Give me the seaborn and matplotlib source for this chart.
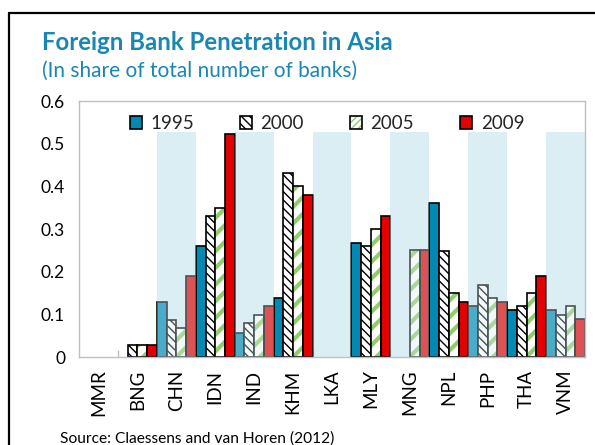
import numpy as np
import pandas as pd
import matplotlib
matplotlib.use("Agg")
import matplotlib.pyplot as plt
from matplotlib.lines import Line2D
from matplotlib.patches import Rectangle
from matplotlib.ticker import FuncFormatter, FixedLocator
import seaborn as sns

countries = ["MMR", "BNG", "CHN", "IDN", "IND", "KHM", "LKA",
             "MLY", "MNG", "NPL", "PHP", "THA", "VNM"]
years = ["1995", "2000", "2005", "2009"]
v1995 = [None, None, 0.128, 0.261, 0.057, 0.139, None, 0.267, None, 0.36, 0.12, 0.109, 0.109]
v2000 = [None, 0.027, 0.087, 0.33, 0.08, 0.431, None, 0.261, None, 0.248, 0.169, 0.12, 0.098]
v2005 = [None, 0.027, 0.069, 0.349, 0.098, 0.40, None, 0.301, 0.25, 0.15, 0.139, 0.15, 0.12]
v2009 = [None, 0.027, 0.19, 0.522, 0.119, 0.379, None, 0.33, 0.25, 0.128, 0.128, 0.19, 0.088]
shaded = ["CHN", "IND", "LKA", "MNG", "PHP", "VNM"]
band_top = 0.527

title = "Foreign Bank Penetration in Asia"
subtitle = "(In share of total number of banks)"
source = "Source: Claessens and van Horen (2012)"

rows = []
for yr, vals in zip(years, [v1995, v2000, v2005, v2009]):
    for c, v in zip(countries, vals):
        rows.append({"country": c, "year": yr, "value": np.nan if v is None else v})
df = pd.DataFrame(rows)

sns.set_theme(style="white")
plt.rcParams["font.family"] = ["Lato", "DejaVu Sans"]
plt.rcParams["hatch.linewidth"] = 1.0

TEAL = "#0089b3"
RED = "#e30000"
GREEN = "#8fcc6a"
BAND = "#daeef3"
GRAY = "#bfbfbf"
TXT = "#1a86b3"


def set_hlw(p, w):
    if hasattr(p, "set_hatch_linewidth"):
        p.set_hatch_linewidth(w)
    else:
        p._hatch_linewidth = w


fig = plt.figure(figsize=(5.95, 4.45), dpi=100)
ax = fig.add_axes([79 / 595, 1 - 357 / 445, (585 - 79) / 595, (357 - 101) / 445])

palette = {"1995": TEAL, "2000": "white", "2005": "white", "2009": RED}
sns.barplot(data=df, x="country", y="value", hue="year", order=countries,
            hue_order=years, palette=palette, width=1.0, gap=0, dodge=True,
            saturation=1, edgecolor="black", linewidth=1.2,
            errorbar=None, legend=False, ax=ax, zorder=2)

for i, cont in enumerate(ax.containers):
    for p in cont.patches:
        if years[i] == "2000":
            p.set_hatch("\\\\\\\\")
            set_hlw(p, 1.0)
        elif years[i] == "2005":
            p.set_hatch("//")
            # hatch colour follows the edge colour; outline drawn separately
            p.set_edgecolor(GREEN)
            p.set_linewidth(0)
            set_hlw(p, 3.0)
            if np.isfinite(p.get_height()) and p.get_height() > 0:
                r = Rectangle(p.get_xy(), p.get_width(), p.get_height(), fill=False,
                              edgecolor="black", lw=1.2, zorder=2.1)
                ax.add_patch(r)

# shaded bands: background and translucent overlay
for c in shaded:
    i = countries.index(c)
    ax.axvspan(i - 0.5, i + 0.5, ymin=0, ymax=band_top / 0.6, color=BAND, lw=0, zorder=0.5)
    ax.axvspan(i - 0.5, i + 0.5, ymin=0, ymax=band_top / 0.6, color=BAND, lw=0, alpha=0.35, zorder=3)

ax.set_xlim(-0.5, len(countries) - 0.5)
ax.set_ylim(0, 0.6)
ax.set_yticks([0, 0.1, 0.2, 0.3, 0.4, 0.5, 0.6])
ax.yaxis.set_major_formatter(FuncFormatter(lambda v, p: "0" if v == 0 else f"{v:.1f}"))
ax.set_xlabel("")
ax.set_ylabel("")
ax.tick_params(axis="y", direction="in", length=5, color=GRAY, labelsize=12.5, pad=10, labelcolor="black")
ax.tick_params(axis="x", which="major", length=0, labelsize=13.5, rotation=90, pad=9, labelcolor="black")
ax.xaxis.set_minor_locator(FixedLocator([i + 0.5 for i in range(len(countries) - 1)]))
ax.tick_params(axis="x", which="minor", direction="in", length=5, color=GRAY, bottom=True)
for s in ax.spines.values():
    s.set_color(GRAY)
    s.set_linewidth(1.0)

# legend handles
h1995 = Rectangle((0, 0), 1, 1, facecolor=TEAL, edgecolor="black", lw=1.2)
h2000 = Rectangle((0, 0), 1, 1, facecolor="white", edgecolor="black", lw=1.2, hatch="\\\\\\\\")
set_hlw(h2000, 1.0)
h2009 = Rectangle((0, 0), 1, 1, facecolor=RED, edgecolor="black", lw=1.2)
h2005a = Rectangle((0, 0), 1, 1, facecolor="white", edgecolor=GREEN, lw=0.01, hatch="/////")
set_hlw(h2005a, 2.0)
h2005b = Rectangle((0, 0), 1, 1, fill=False, edgecolor="black", lw=1.2)
leg = ax.legend([h1995, h2000, (h2005a, h2005b), h2009], years, loc="upper center",
                bbox_to_anchor=(0.49, 0.975), ncol=4,
                frameon=False, fontsize=13.5, handlelength=0.65, handleheight=0.65,
                handletextpad=0.45, columnspacing=2.45, borderaxespad=0)

fig.text(42 / 595, 1 - 50 / 445, title, color=TXT, fontsize=17.3, fontweight="bold", va="baseline")
fig.text(42 / 595, 1 - 77 / 445, subtitle, color=TXT, fontsize=15, va="baseline")
fig.text(60 / 595, 1 - 443 / 445, source, color="black", fontsize=11.2, va="baseline")

fig.add_artist(Line2D([9 / 595, 9 / 595], [0, 1 - 13 / 445], transform=fig.transFigure, color="black", lw=1.6))
fig.add_artist(Line2D([9 / 595, 1], [1 - 13 / 445, 1 - 13 / 445], transform=fig.transFigure, color="black", lw=1.6))

fig.savefig("out.png", dpi=100)
